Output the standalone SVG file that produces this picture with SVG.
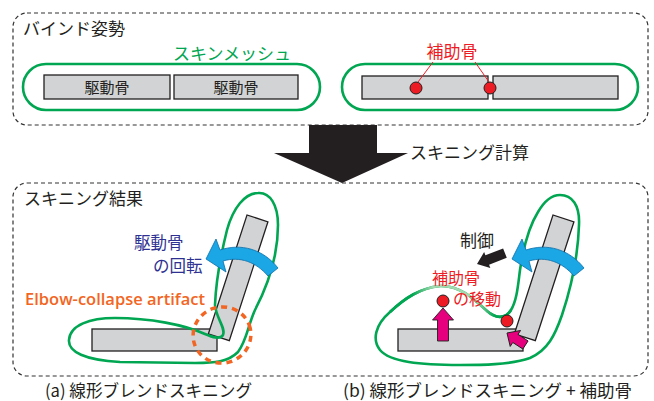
<svg xmlns="http://www.w3.org/2000/svg" width="654" height="401" viewBox="0 0 654 401">
<style>
text{font-family:"Noto Sans CJK JP","Noto Sans",sans-serif;}
.frame{fill:none;stroke:#333;stroke-width:1.2;stroke-dasharray:4 3;}
.bone{fill:#d1d3d4;stroke:#231f20;stroke-width:1.3;}
.skin{fill:none;stroke:#00a651;stroke-width:2.6;}
.joint{fill:#ed1c24;stroke:#231f20;stroke-width:1;}
.rot{fill:#1ba6e6;stroke:#0a6fa8;stroke-width:0.8;}
.move{fill:#e6007e;stroke:#231f20;stroke-width:0.9;}
.lbl{font-size:17px;fill:#231f20;}
.red{fill:#ed1c24;}
</style>
<defs>
<linearGradient id="fade" gradientUnits="userSpaceOnUse" x1="412" y1="0" x2="495" y2="0">
<stop offset="0" stop-color="#00a651"/>
<stop offset="0.25" stop-color="#a3d9ae"/>
<stop offset="0.75" stop-color="#a3d9ae"/>
<stop offset="1" stop-color="#00a651"/>
</linearGradient>
<path id="rotArrow" d="M206,259 L216,239 L220,250 C241,243 263,249 278,268 L268,276 C256,262 240,256 223,261 L226,272 Z"/>
</defs>

<g id="frame-bind">
<rect class="frame" x="13" y="13" width="635" height="112" rx="14"/>
<text class="lbl" x="23" y="35">バインド姿勢</text>
</g>

<g id="bind-left">
<text x="173" y="60" font-size="17" fill="#00a651">スキンメッシュ</text>
<rect class="skin" x="23" y="64" width="297" height="46" rx="23"/>
<rect class="bone" x="44" y="75" width="126" height="24"/>
<rect class="bone" x="174" y="75" width="124" height="24"/>
<text x="107" y="93" font-size="15" fill="#231f20" text-anchor="middle">駆動骨</text>
<text x="236" y="93" font-size="15" fill="#231f20" text-anchor="middle">駆動骨</text>
</g>

<g id="bind-right">
<rect class="skin" x="342" y="64" width="296" height="46" rx="23"/>
<rect class="bone" x="362" y="76" width="126" height="23"/>
<rect class="bone" x="493" y="76" width="125" height="23"/>
<text class="red" x="452" y="58" font-size="17" text-anchor="middle">補助骨</text>
<line x1="433" y1="62" x2="418" y2="82" stroke="#ed1c24" stroke-width="1"/>
<line x1="475" y1="62" x2="489" y2="82" stroke="#ed1c24" stroke-width="1"/>
<circle class="joint" cx="416" cy="88" r="6"/>
<circle class="joint" cx="490" cy="88" r="6"/>
</g>

<g id="skinning-arrow">
<polygon points="309,125 377,125 377,153 408,153 342,183 274,153 309,153" fill="#231f20"/>
<text class="lbl" x="410" y="159">スキニング計算</text>
</g>

<g id="frame-result">
<rect class="frame" x="13" y="183" width="635" height="193" rx="14"/>
<text class="lbl" x="24" y="205">スキニング結果</text>
</g>

<g id="panel-a">
<rect class="bone" x="92" y="329" width="125" height="22"/>
<rect class="bone" x="0" y="0" width="22" height="125" transform="translate(247,215) rotate(18)"/>
<path class="skin" d="M258,193 C270,192 278,205 278,225 C278,255 268,285 255,310 C248,325 247,340 238,352 C228,362 215,363 195,363 L120,362 C85,360 68,352 69,340 C70,325 90,318 115,318 C150,318 185,325 205,334 C212,337 220,340 223,335 C226,328 216,318 215,305 C216,280 222,250 227,230 C233,208 245,193 258,193 Z"/>
<ellipse cx="222" cy="335" rx="29" ry="28" transform="rotate(-20 222 335)" fill="none" stroke="#f26522" stroke-width="3.5" stroke-dasharray="6 5"/>
<use href="#rotArrow" class="rot"/>
<text x="134" y="249" font-size="16.5" fill="#2e3192">駆動骨</text>
<text x="153" y="272" font-size="16.5" fill="#2e3192">の回転</text>
<text x="25" y="305" font-size="16" font-weight="600" fill="#f26522" style="font-family:'Open Sans','Noto Sans',sans-serif" textLength="180" lengthAdjust="spacingAndGlyphs">Elbow-collapse artifact</text>
<text class="lbl" x="45" y="397" textLength="207" lengthAdjust="spacingAndGlyphs">(a) 線形ブレンドスキニング</text>
</g>

<g id="panel-b">
<rect class="bone" x="398" y="329" width="125" height="22"/>
<rect class="bone" x="0" y="0" width="22" height="125" transform="translate(553,215) rotate(18)"/>
<path class="skin" d="M560,195 C572,195 580,205 579,225 C578,255 572,285 562,315 C555,335 548,350 530,358 C510,365 480,365 460,365 C420,365 390,362 380,350 C372,340 375,325 390,312 C405,298 420,288 440,286 C460,285 475,300 487,311 C495,318 505,320 511,310 C517,300 518,285 520,270 C523,250 528,228 538,212 C545,200 552,195 560,195 Z"/>
<path d="M390,312 C405,298 420,288 440,286 C460,285 475,300 487,311 C495,318 505,320 511,310" fill="none" stroke="url(#fade)" stroke-width="2.6"/>
<use href="#rotArrow" class="rot" transform="translate(306,0)"/>
<polygon fill="#231f20" points="0,0 -11,-8.5 -11,-5 -30,-5 -30,5 -11,5 -11,8.5" transform="translate(477,264) rotate(158.6)"/>
<text class="lbl" x="460" y="247">制御</text>
<text class="red" x="432" y="284" font-size="16">補助骨</text>
<text class="red" x="453" y="305" font-size="16">の移動</text>
<circle class="joint" cx="443" cy="301" r="6"/>
<circle class="joint" cx="507" cy="321" r="6"/>
<polygon class="move" points="443,308 453.5,320 448.5,320 448.5,341 437.5,341 437.5,320 432.5,320"/>
<polygon class="move" points="0,0 -10,-9.5 -10,-4.8 -22,-4.8 -22,4.8 -10,4.8 -10,9.5" transform="translate(507,333) rotate(213)"/>
<text class="lbl" x="343" y="397" textLength="289" lengthAdjust="spacingAndGlyphs">(b) 線形ブレンドスキニング + 補助骨</text>
</g>
</svg>
